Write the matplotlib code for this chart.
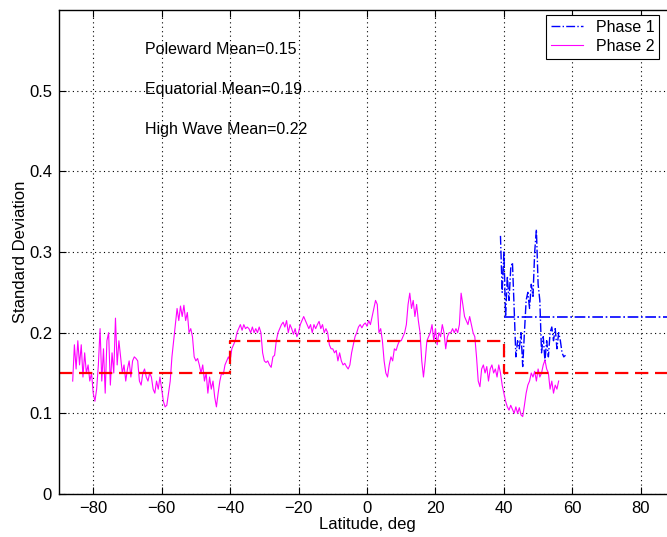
import numpy as np
import matplotlib
matplotlib.use("Agg")
import matplotlib.pyplot as plt

plt.rcParams['font.family'] = ['Liberation Sans', 'DejaVu Sans']

# Phase 2 standard deviation, sampled every 0.5 deg starting at -86 deg
phase2_start = -86.0
phase2_step = 0.5
phase2_std = [
    0.14, 0.185, 0.155, 0.19, 0.16, 0.185, 0.145, 0.175, 0.15, 0.16,
    0.14, 0.15, 0.125, 0.115, 0.13, 0.16, 0.205, 0.14, 0.18, 0.125,
    0.19, 0.2, 0.135, 0.175, 0.15, 0.218, 0.16, 0.19, 0.17, 0.15,
    0.16, 0.14, 0.155, 0.165, 0.145, 0.165, 0.17, 0.168, 0.165, 0.14,
    0.135, 0.15, 0.155, 0.145, 0.14, 0.15, 0.145, 0.13, 0.125, 0.14,
    0.13, 0.145, 0.13, 0.115, 0.108, 0.11, 0.125, 0.14, 0.17, 0.19,
    0.21, 0.23, 0.215, 0.233, 0.22, 0.234, 0.215, 0.225, 0.2, 0.205,
    0.195, 0.17, 0.165, 0.168, 0.16, 0.15, 0.16, 0.14, 0.15, 0.125,
    0.145, 0.13, 0.14, 0.12, 0.108, 0.125, 0.14, 0.15, 0.148, 0.16,
    0.165, 0.17, 0.165, 0.18, 0.185, 0.19, 0.2, 0.205, 0.21, 0.203,
    0.21, 0.205, 0.207, 0.205, 0.2, 0.207, 0.2, 0.205, 0.2, 0.207,
    0.2, 0.175, 0.165, 0.163, 0.165, 0.16, 0.157, 0.17, 0.172, 0.19,
    0.2, 0.205, 0.21, 0.213, 0.207, 0.215, 0.2, 0.21, 0.205, 0.198,
    0.205, 0.195, 0.2, 0.21, 0.215, 0.22, 0.215, 0.21, 0.205, 0.21,
    0.2, 0.21, 0.205, 0.21, 0.214, 0.205, 0.21, 0.2, 0.205, 0.2,
    0.185, 0.18, 0.18, 0.175, 0.178, 0.165, 0.175, 0.165, 0.16, 0.162,
    0.158, 0.155, 0.16, 0.175, 0.185, 0.195, 0.2, 0.207, 0.21, 0.206,
    0.21, 0.212, 0.208, 0.215, 0.21, 0.22, 0.23, 0.24, 0.235, 0.2,
    0.205, 0.19, 0.165, 0.15, 0.145, 0.16, 0.17, 0.165, 0.18, 0.178,
    0.185, 0.19, 0.19, 0.195, 0.2, 0.21, 0.235, 0.249, 0.23, 0.24,
    0.22, 0.235, 0.215, 0.2, 0.165, 0.145, 0.165, 0.19, 0.195, 0.2,
    0.21, 0.19, 0.205, 0.185, 0.2, 0.195, 0.21, 0.2, 0.18, 0.195,
    0.2, 0.2, 0.205, 0.2, 0.205, 0.2, 0.21, 0.249, 0.235, 0.22,
    0.215, 0.21, 0.22, 0.21, 0.2, 0.195, 0.17, 0.14, 0.133, 0.155,
    0.16, 0.15, 0.158, 0.14, 0.155, 0.16, 0.15, 0.155, 0.145, 0.16,
    0.15, 0.135, 0.125, 0.115, 0.108, 0.104, 0.11, 0.105, 0.1, 0.108,
    0.1, 0.107, 0.098, 0.096, 0.11, 0.125, 0.135, 0.14, 0.15, 0.145,
    0.152, 0.14, 0.155, 0.145, 0.15, 0.16, 0.166, 0.155, 0.15, 0.13,
    0.14, 0.125, 0.135, 0.13, 0.14,
]

# Phase 1 standard deviation, sampled every 0.5 deg starting at 39 deg
phase1_start = 39.0
phase1_step = 0.5
phase1_std = [
    0.32, 0.25, 0.30, 0.22, 0.27, 0.24, 0.28, 0.287, 0.23, 0.17,
    0.19, 0.18, 0.2, 0.158, 0.2, 0.24, 0.25, 0.23, 0.26, 0.245,
    0.3, 0.328, 0.26, 0.24, 0.175, 0.195, 0.165, 0.19, 0.17, 0.2,
    0.207, 0.19, 0.205, 0.18, 0.2, 0.19, 0.175, 0.17, 0.172,
]

# Regional means
poleward_mean = 0.15
equatorial_mean = 0.19
high_wave_mean = 0.22
equatorial_band = (-40, 40)
high_wave_start = 40
lat_range = (-90, 90)

lat2 = phase2_start + phase2_step * np.arange(len(phase2_std))
lat1 = phase1_start + phase1_step * np.arange(len(phase1_std))

fig = plt.figure(figsize=(6.67, 5.37), dpi=100)
ax = fig.add_axes([59 / 667, 43 / 537, 616 / 667, 484 / 537])

ax.plot(lat1, phase1_std, color='#0000ff', linestyle='-.', linewidth=1.0,
        label='Phase 1')
ax.plot(lat2, phase2_std, color='#ff00ff', linestyle='-', linewidth=0.8,
        label='Phase 2')

# Mean levels: poleward / equatorial step and high-wave level
step_x = [lat_range[0], equatorial_band[0], equatorial_band[0],
          equatorial_band[1], equatorial_band[1], lat_range[1]]
step_y = [poleward_mean, poleward_mean, equatorial_mean,
          equatorial_mean, poleward_mean, poleward_mean]
ax.plot(step_x, step_y, color='#ff0000', linestyle=(0, (6, 3)), linewidth=1.6)
ax.plot([high_wave_start, lat_range[1]], [high_wave_mean, high_wave_mean],
        color='#0000ff', linestyle='-.', linewidth=1.2)

ax.set_xlim(*lat_range)
ax.set_ylim(0, 0.6)
ax.set_xticks(np.arange(-80, 81, 20))
ax.set_yticks([0, 0.1, 0.2, 0.3, 0.4, 0.5])
ax.set_yticklabels(['0', '0.1', '0.2', '0.3', '0.4', '0.5'])
ax.set_xticklabels([('\u2212' + str(-v)) if v < 0 else str(v)
                    for v in range(-80, 81, 20)])
ax.tick_params(direction='in', top=True, right=True, length=5,
               labelsize=12, width=0.8, pad=5)
ax.grid(True, color='black', linestyle=(0, (1, 3)), linewidth=0.8)
for s in ax.spines.values():
    s.set_linewidth(1.0)

ax.set_xlabel('Latitude, deg', fontsize=12, labelpad=1)
ax.set_ylabel('Standard Deviation', fontsize=12, labelpad=0)
ax.yaxis.set_label_coords(-31 / 616, 0.5)

ax.text(-64.9, 0.551, f'Poleward Mean={poleward_mean:.2f}', fontsize=11.5,
        ha='left', va='center')
ax.text(-64.9, 0.501, f'Equatorial Mean={equatorial_mean:.2f}', fontsize=11.5,
        ha='left', va='center')
ax.text(-64.9, 0.452, f'High Wave Mean={high_wave_mean:.2f}', fontsize=11.5,
        ha='left', va='center')

leg = ax.legend(loc='upper left', bbox_to_anchor=(546 / 667, 1 - 15 / 537),
                bbox_transform=fig.transFigure, fontsize=11.5, fancybox=False,
                framealpha=1, edgecolor='black', borderpad=0.3,
                handlelength=2.0, handletextpad=0.8, labelspacing=0.25,
                borderaxespad=0)
leg.get_frame().set_linewidth(0.8)

fig.savefig('out.png', dpi=100)
